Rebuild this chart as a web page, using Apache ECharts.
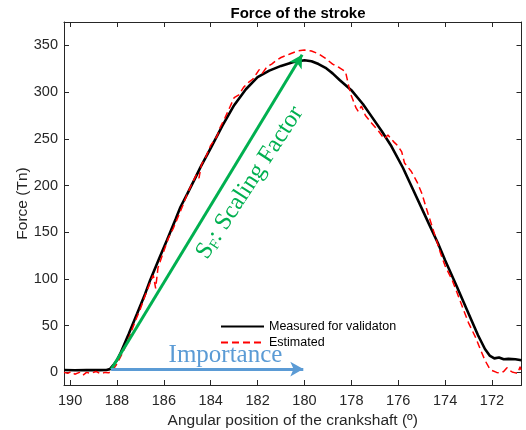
<!DOCTYPE html>
<html>
<head>
<meta charset="utf-8">
<script src="https://cdn.jsdelivr.net/npm/echarts@6/dist/echarts.min.js"></script>
<style>
  html,body{margin:0;padding:0;background:#fff}
  #chart{width:526px;height:430px}
</style>
</head>
<body>
<div id="chart"></div>
<script>
// tick labels
const xTicks = [190, 188, 186, 184, 182, 180, 178, 176, 174, 172]
const yTicks = [0, 50, 100, 150, 200, 250, 300, 350]

// measured force (black)
const measuredAngle = [190.26, 189.8, 189.3, 188.8, 188.45, 188.3, 188.15, 188.0, 187.86, 187.5, 187.14, 186.8, 186.58, 186.2, 185.86, 185.5, 185.29, 185.0, 184.7, 184.43, 184.0, 183.5, 183.0, 182.5, 182.0, 181.5, 181.0, 180.5, 180.0, 179.7, 179.4, 179.1, 178.9, 178.8, 178.5, 178.0, 177.5, 177.14, 176.7, 176.29, 175.8, 175.3, 174.71, 174.3, 174.0, 173.5, 173.0, 172.6, 172.3, 172.1, 171.9, 171.7, 171.5, 171.3, 171.0, 170.74]
const measuredForce = [2.5, 2.3, 2.6, 2.4, 2.6, 3.5, 8, 13, 20, 41, 63, 84, 99, 122, 142, 164, 177, 191, 206, 220, 240, 264, 286, 303, 316, 323, 328, 332, 334, 333, 330, 326, 322, 320, 313, 302, 287, 274, 258, 242, 219, 192, 160, 138, 120, 92, 63, 40, 25, 18, 15, 16, 14, 14.5, 14, 13]

// estimated force (red dashed)
const estimatedAngle = [190.26, 190.1, 189.95, 189.8, 189.6, 189.45, 189.3, 189.1, 188.9, 188.7, 188.5, 188.35, 188.2, 188.0, 187.8, 187.6, 187.4, 187.2, 187.0, 186.8, 186.6, 186.45, 186.35, 186.25, 186.0, 185.8, 185.6, 185.4, 185.2, 185.0, 184.8, 184.6, 184.5, 184.4, 184.2, 184.0, 183.8, 183.71, 183.6, 183.4, 183.2, 183.0, 182.8, 182.6, 182.36, 182.2, 181.93, 181.8, 181.6, 181.4, 181.2, 181.0, 180.6, 180.3, 180.0, 179.7, 179.4, 179.1, 178.8, 178.5, 178.25, 178.1, 178.0, 177.8, 177.7, 177.57, 177.4, 177.14, 177.0, 176.8, 176.6, 176.44, 176.2, 176.0, 175.85, 175.73, 175.44, 175.2, 175.0, 174.73, 174.5, 174.2, 174.0, 173.7, 173.5, 173.2, 173.0, 172.71, 172.5, 172.3, 172.1, 172.0, 171.8, 171.64, 171.5, 171.36, 171.25, 171.14, 171.0, 170.9, 170.8, 170.74]
const estimatedForce = [0, -1, 1, -2, 0, -3, 0, -1, 1, -1.5, 0, -0.5, 2, 9, 19, 30, 43, 56, 68, 82, 95, 104, 90, 112, 130, 144, 154, 166, 178, 191, 202, 212, 208, 222, 231, 243, 250, 254, 262, 272, 283, 294, 297, 305, 311, 314, 324, 320, 327, 330, 334, 337, 341, 344, 345, 344, 341, 336, 330, 326, 322, 305, 296, 283, 279, 285, 275, 267, 263, 257, 250, 254, 247, 242, 236, 224, 215, 204, 192, 170, 152, 128, 114, 99, 86, 66, 53, 38, 25, 13, 4, 2, 0, -0.5, 1, 5, 2, 0.5, -0.5, -1, 6, 1]

// annotation arrows [angle, force]
const scaleArrow = [[188.25, 3], [180.1, 340]]
const importanceArrow = [[188.25, 3.5], [180.05, 3.5]]

const zip = (a, b) => a.map((v, i) => [v, b[i]])

const chart = echarts.init(document.getElementById('chart'))
const axisColor = '#262626'
const sans = 'Liberation Sans, Arial, sans-serif'
const serif = 'Liberation Serif, Times New Roman, serif'

const xBase = {
  type: 'value', min: 170.74, max: 190.26, inverse: true,
  splitLine: {show: false},
  axisLine: {onZero: false, lineStyle: {color: axisColor, width: 1}},
  axisTick: {inside: true, length: 5, customValues: xTicks, lineStyle: {color: axisColor}}
}
const yBase = {
  type: 'value', min: -13.5, max: 375,
  splitLine: {show: false},
  axisLine: {show: true, onZero: false, lineStyle: {color: axisColor, width: 1}},
  axisTick: {show: true, inside: true, length: 5, customValues: yTicks, lineStyle: {color: axisColor}}
}

chart.setOption({
  animation: false,
  title: {
    text: 'Force of the stroke', left: 293, top: 1, textAlign: 'center',
    textStyle: {fontFamily: sans, fontSize: 15, fontWeight: 'bold', color: '#000'}
  },
  grid: {left: 64, right: 4.5, top: 22, bottom: 45, containLabel: false, outerBoundsMode: 'none'},
  legend: {
    orient: 'vertical', left: 215, top: 315, itemWidth: 43, itemHeight: 12, itemGap: 3,
    itemStyle: {opacity: 0},
    textStyle: {fontFamily: sans, fontSize: 12.5, color: '#000'},
    data: ['Measured for validaton', 'Estimated']
  },
  xAxis: [
    Object.assign({}, xBase, {
      position: 'bottom',
      axisLabel: {customValues: xTicks, margin: 8, fontFamily: sans, fontSize: 14.5, color: axisColor},
      name: 'Angular position of the crankshaft (º)', nameLocation: 'middle', nameGap: 21,
      nameTextStyle: {fontFamily: sans, fontSize: 15.5, color: axisColor}
    }),
    Object.assign({}, xBase, {position: 'top', axisLabel: {show: false}})
  ],
  yAxis: [
    Object.assign({}, yBase, {
      position: 'left',
      axisLabel: {customValues: yTicks, margin: 6, fontFamily: sans, fontSize: 14.5, color: axisColor},
      name: 'Force (Tn)', nameLocation: 'middle', nameGap: 33, nameMoveOverlap: false,
      nameTextStyle: {fontFamily: sans, fontSize: 15.5, color: axisColor}
    }),
    Object.assign({}, yBase, {position: 'right', axisLabel: {show: false}})
  ],
  series: [
    {
      name: 'Measured for validaton', type: 'line', data: zip(measuredAngle, measuredForce),
      showSymbol: false, symbol: 'none', lineStyle: {color: '#000', width: 2.6}, itemStyle: {color: '#000'}
    },
    {
      name: 'Estimated', type: 'line', data: zip(estimatedAngle, estimatedForce),
      showSymbol: false, symbol: 'none', lineStyle: {color: '#ff0000', width: 1.5, type: [7, 4]}, itemStyle: {color: '#ff0000'}
    },
    {
      name: 'annotations', type: 'line', data: [], z: 5,
      markLine: {
        silent: true, animation: false,
        symbol: ['none', 'arrow'], symbolSize: [11, 13],
        label: {show: false},
        data: [
          [{coord: scaleArrow[0], lineStyle: {color: '#00b050', width: 3, type: 'solid'}},
           {coord: scaleArrow[1], lineStyle: {color: '#00b050', width: 3, type: 'solid'}}],
          [{coord: importanceArrow[0], lineStyle: {color: '#5b9bd5', width: 3, type: 'solid'}},
           {coord: importanceArrow[1], lineStyle: {color: '#5b9bd5', width: 3, type: 'solid'}}]
        ]
      },
      markPoint: {
        silent: true, animation: false, symbol: 'circle', symbolSize: 0,
        data: [
          {coord: [182.33, 203], label: {
            show: true, position: 'inside', rotate: 57,
            formatter: '{s|S}{f|F}{s|: Scaling Factor}',
            rich: {
              s: {fontFamily: serif, fontSize: 24.5, color: '#00b050'},
              f: {fontFamily: serif, fontSize: 14.5, color: '#00b050', verticalAlign: 'bottom', padding: [8, 0, 0, 0]}
            }
          }},
          {coord: [183.37, 18.6], label: {
            show: true, position: 'inside',
            formatter: 'Importance',
            fontFamily: serif, fontSize: 25, color: '#5b9bd5'
          }}
        ]
      }
    }
  ]
})
</script>
</body>
</html>
